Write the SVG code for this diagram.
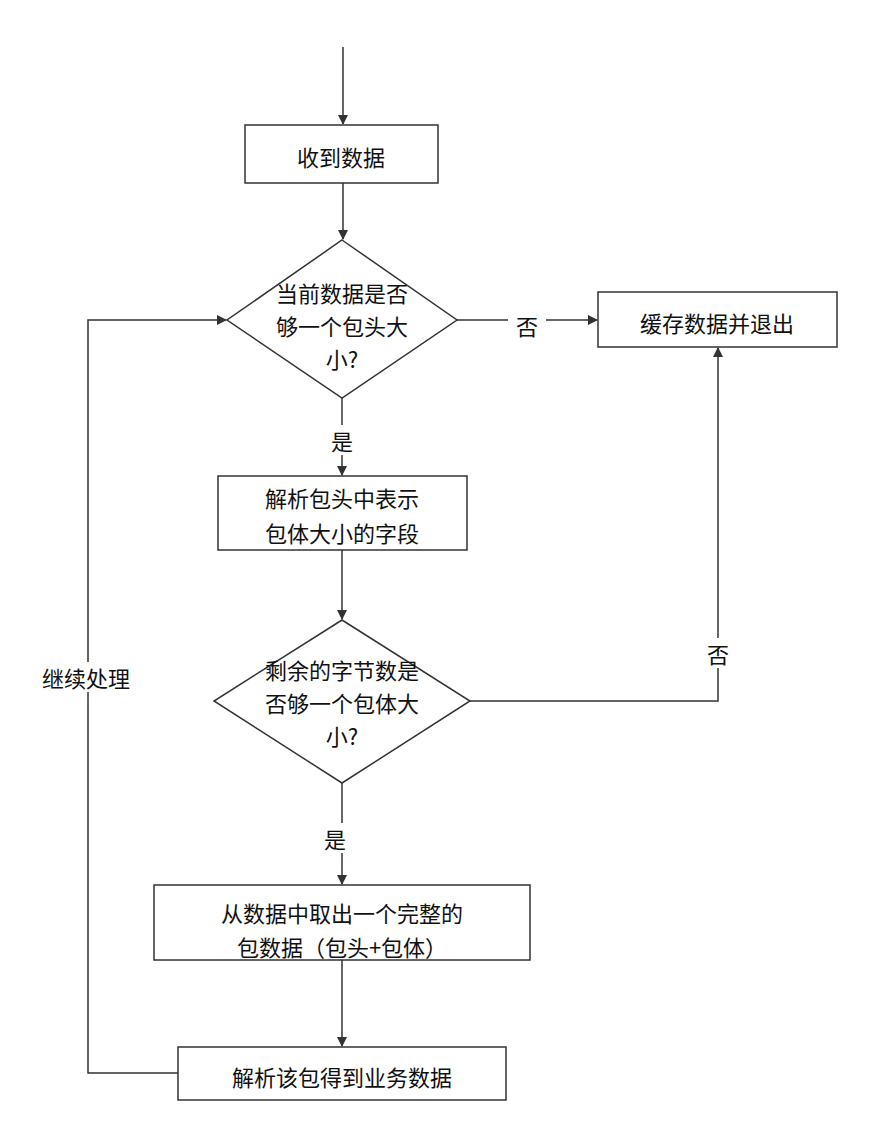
<svg xmlns="http://www.w3.org/2000/svg" width="888" height="1148" viewBox="0 0 888 1148">
<style>
.n{fill:#fff;stroke:#333;stroke-width:1.5}
.t{font-family:"Noto Sans CJK SC","Noto Sans",sans-serif;font-size:22px;fill:#111;text-anchor:middle;dominant-baseline:central}
.c{fill:none;stroke:#333;stroke-width:1.5}
</style>
<defs><marker id="a" markerWidth="10" markerHeight="10" refX="9" refY="5" orient="auto" markerUnits="userSpaceOnUse"><path d="M0,0 L10,5 L0,10 Z" fill="#333"/></marker></defs>
<rect width="888" height="1148" fill="#fff"/>
<g id="connectors">
<path class="c" d="M343,47 V124" marker-end="url(#a)"/>
<path class="c" d="M343,183 V239" marker-end="url(#a)"/>
<path class="c" d="M457,320 H597" marker-end="url(#a)"/>
<path class="c" d="M342,398 V475" marker-end="url(#a)"/>
<path class="c" d="M342,550 V619" marker-end="url(#a)"/>
<path class="c" d="M470,701 H718 V348" marker-end="url(#a)"/>
<path class="c" d="M342,783 V884" marker-end="url(#a)"/>
<path class="c" d="M342,960 V1046" marker-end="url(#a)"/>
<path class="c" d="M178,1073 H88 V320 H226" marker-end="url(#a)"/>
<rect x="508" y="310" width="38" height="30" fill="#fff"/><text class="t" x="527" y="325">否</text>
<rect x="324" y="425" width="36" height="30" fill="#fff"/><text class="t" x="342" y="440">是</text>
<rect x="700" y="638" width="36" height="30" fill="#fff"/><text class="t" x="718" y="653">否</text>
<rect x="316" y="823" width="36" height="30" fill="#fff"/><text class="t" x="335" y="838">是</text>
<rect x="30" y="662" width="112" height="30" fill="#fff"/><text class="t" x="86" y="677">继续处理</text>
</g>
<g id="n1"><rect class="n" x="245" y="125" width="193" height="58"/><text class="t" x="341" y="156">收到数据</text></g>
<g id="n2"><path class="n" d="M342,240 L457,320 L342,398 L227,320 Z"/><text class="t" x="342" y="292">当前数据是否</text><text class="t" x="342" y="325">够一个包头大</text><text class="t" x="342" y="358">小?</text></g>
<g id="n3"><rect class="n" x="598" y="292" width="239" height="55"/><text class="t" x="717" y="322">缓存数据并退出</text></g>
<g id="n4"><rect class="n" x="218" y="476" width="249" height="74"/><text class="t" x="342" y="497">解析包头中表示</text><text class="t" x="342" y="532">包体大小的字段</text></g>
<g id="n5"><path class="n" d="M342,620 L470,701 L342,783 L214,701 Z"/><text class="t" x="342" y="669">剩余的字节数是</text><text class="t" x="342" y="702">否够一个包体大</text><text class="t" x="342" y="735">小?</text></g>
<g id="n6"><rect class="n" x="154" y="885" width="376" height="75"/><text class="t" x="342" y="912">从数据中取出一个完整的</text><text class="t" x="342" y="946">包数据（包头+包体）</text></g>
<g id="n7"><rect class="n" x="178" y="1047" width="328" height="53"/><text class="t" x="342" y="1076">解析该包得到业务数据</text></g>
</svg>
